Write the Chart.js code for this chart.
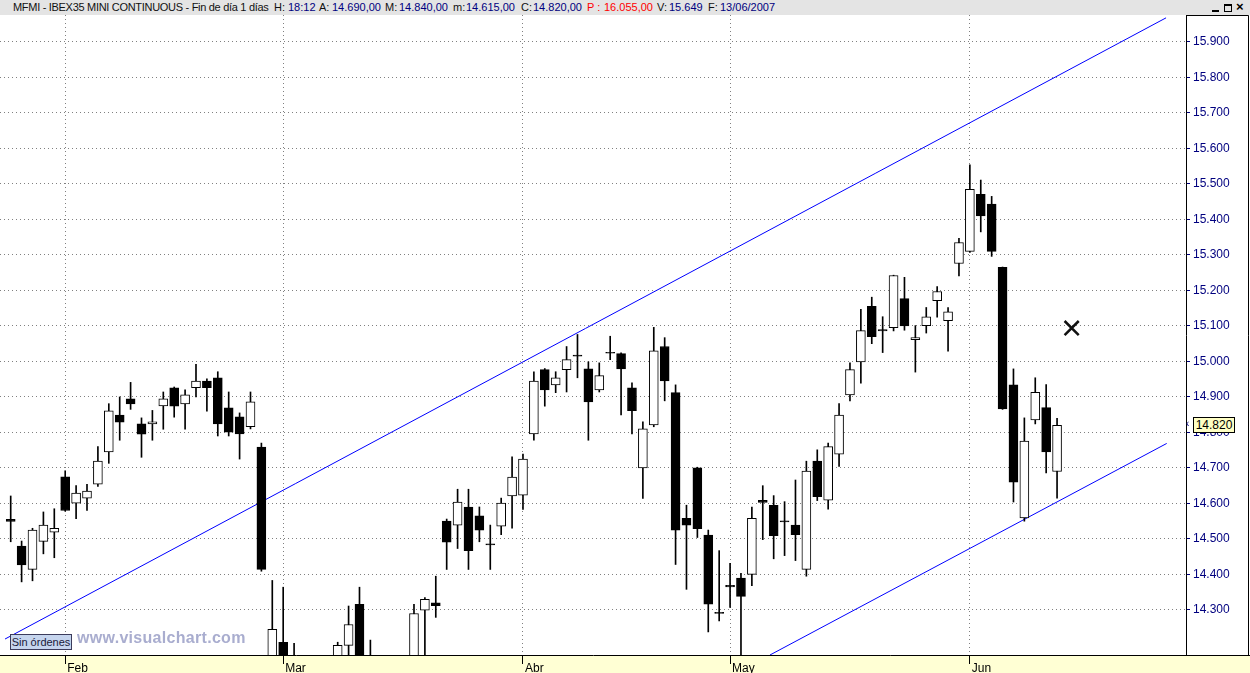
<!DOCTYPE html>
<html>
<head>
<meta charset="utf-8">
<script src="https://cdn.jsdelivr.net/npm/chart.js@4/dist/chart.umd.min.js"></script>
<style>
  body { margin: 0; background: #fff; }
  #wrap { position: relative; width: 1250px; height: 673px; overflow: hidden; font-family: "Liberation Sans", Arial, sans-serif; }
  #chart { position: absolute; left: 0; top: 0; }
  #head { position: absolute; left: 0; top: 0; width: 1250px; height: 15px; background: #e4e4e4; font-size: 11px; }
  #head span { position: absolute; top: 0; line-height: 15px; white-space: nowrap; }
  .k { color: #111; }
  .v { color: #000080; }
  .r { color: #ff0000; }
  #title { letter-spacing: -0.3px; }
  #btns div { position: absolute; }
  #noorders { position: absolute; left: 10px; top: 634px; width: 60px; height: 14px; background: #c6d5ee; border: 1px solid #3c3c5c; font-size: 11px; line-height: 14px; text-align: center; color: #1a1a3a; }
  #mark { position: absolute; left: 77px; top: 629px; font-size: 16px; font-weight: bold; letter-spacing: 0.3px; color: #a9adcf; white-space: nowrap; }
  #last { position: absolute; left: 1193px; top: 417px; width: 40px; height: 14px; background: #ffffc4; border: 1px solid #000; font-size: 12px; line-height: 14px; text-align: center; color: #000; }
  #arrow { position: absolute; left: 1186px; top: 417px; font-size: 10px; line-height: 14px; color: #000080; }
</style>
</head>
<body>
<div id="wrap">
  <canvas id="chart" width="1250" height="673"></canvas>
  <div id="head">
    <span id="title" class="k" style="left:13px">MFMI - IBEX35 MINI CONTINUOUS - Fin de día 1 días</span>
    <span class="k" style="left:274px">H:</span><span class="v" style="left:288px">18:12</span>
    <span class="k" style="left:319px">A:</span><span class="v" style="left:332px">14.690,00</span>
    <span class="k" style="left:385px">M:</span><span class="v" style="left:399px">14.840,00</span>
    <span class="k" style="left:453px">m:</span><span class="v" style="left:466px">14.615,00</span>
    <span class="k" style="left:521px">C:</span><span class="v" style="left:533px">14.820,00</span>
    <span class="r" style="left:587px">P :</span><span class="r" style="left:604px">16.055,00</span>
    <span class="k" style="left:657px">V:</span><span class="v" style="left:669px">15.649</span>
    <span class="k" style="left:708px">F:</span><span class="v" style="left:720px">13/06/2007</span>
    <div id="btns">
      <div style="left:1212px; top:10px; width:7px; height:2px; background:#000"></div>
      <div style="left:1224px; top:4px; width:6px; height:5px; border:1px solid #000; border-top-width:2px"></div>
      <span style="left:1236px; top:-1px; font-size:13px; font-weight:bold; color:#000">×</span>
    </div>
  </div>
  <div id="noorders">Sin órdenes</div>
  <div id="mark">www.visualchart.com</div>
  <div id="arrow">‹</div>
  <div id="last">14.820</div>
</div>
<script>
// SESSIONS (25/01/2007 - 13/06/2007)
const dates = [
  "25/01","26/01","29/01","30/01","31/01",
  "01/02","02/02","05/02","06/02","07/02","08/02","09/02","12/02","13/02","14/02",
  "15/02","16/02","19/02","20/02","21/02","22/02","23/02","26/02","27/02","28/02",
  "01/03","02/03","05/03","06/03","07/03","08/03","09/03","12/03","13/03","14/03","15/03",
  "16/03","19/03","20/03","21/03","22/03","23/03","26/03","27/03","28/03","29/03","30/03",
  "02/04","03/04","04/04","05/04","10/04","11/04","12/04","13/04","16/04","17/04",
  "18/04","19/04","20/04","23/04","24/04","25/04","26/04","27/04","30/04",
  "02/05","03/05","04/05","07/05","08/05","09/05","10/05","11/05","14/05","15/05","16/05",
  "17/05","18/05","21/05","22/05","23/05","24/05","25/05","28/05","29/05","30/05","31/05",
  "01/06","04/06","05/06","06/06","07/06","08/06","11/06","12/06","13/06"
];
const monthLabels = ["Ene", "Feb", "Mar", "Abr", "May", "Jun"];

// OHLC
const opens = [
  14555,14480,14414,14493,14519,
  14675,14601,14615,14654,14745,14849,14895,14824,14824,14875,
  14926,14880,14926,14945,14954,14869,14844,14816,14759,14100,
  14209,14100,13850,13800,13950,14060,14200,14316,14000,13700,13800,
  13950,14060,14299,14320,14550,14539,14590,14565,14486,14536,14621,
  14623,14796,14977,14934,14977,15018,14979,14920,15026,15022,
  14926,14700,14821,15042,14912,14558,14700,14511,14293,
  14369,14390,14400,14609,14595,14551,14539,14414,14719,14609,14739,
  14906,14999,15155,15090,15095,15177,15061,15101,15171,15115,15276,
  15310,15471,15443,15265,14934,14559,14835,14870,14690
];
const highs = [
  14621,14494,14530,14576,14585,
  14692,14650,14654,14760,14881,14900,14941,14841,14862,14914,
  14928,14920,14992,14951,14971,14914,14855,14914,14770,14383,
  14364,14206,14000,14020,14080,14209,14311,14364,14215,13900,14050,
  14120,14316,14335,14395,14556,14640,14640,14590,14539,14615,14731,
  14739,14971,14980,14971,15042,15076,14999,14996,15071,15024,
  14940,14830,15096,15067,14934,14595,14702,14525,14467,
  14431,14403,14590,14650,14622,14605,14666,14719,14751,14770,14881,
  14996,15147,15181,15126,15243,15237,15101,15152,15211,15152,15347,
  15554,15511,15465,15266,14979,14841,14954,14935,14840
];
const lows = [
  14492,14379,14382,14458,14447,
  14578,14557,14580,14648,14713,14778,14865,14730,14778,14809,
  14843,14809,14900,14860,14790,14790,14725,14810,14409,14050,
  13950,13900,13650,13750,13820,14020,14130,13950,13750,13500,13750,
  13880,14040,14165,14279,14414,14473,14414,14492,14414,14512,14530,
  14583,14778,14874,14912,14914,14954,14778,14914,15005,14849,
  14796,14614,14816,14889,14428,14358,14504,14238,14269,
  14307,14150,14368,14498,14444,14453,14439,14395,14608,14584,14704,
  14889,14939,15050,15025,15086,15088,14970,15080,15125,15029,15241,
  15307,15365,15296,14865,14604,14550,14824,14686,14615
];
const closes = [
  14549,14427,14525,14539,14530,
  14580,14629,14635,14719,14861,14829,14880,14795,14830,14895,
  14874,14906,14945,14926,14824,14801,14796,14886,14414,14245,
  14050,13950,13750,13950,13880,14200,14259,14000,13800,13750,13950,
  14000,14290,14330,14312,14491,14604,14467,14525,14483,14601,14674,
  14725,14945,14920,14954,15005,15015,14886,14960,15023,14979,
  14861,14810,15030,14945,14525,14539,14529,14316,14290,
  14365,14338,14558,14603,14509,14548,14512,14691,14619,14760,14849,
  14977,15087,15070,15086,15242,15100,15067,15126,15197,15140,15335,
  15485,15410,15310,14866,14660,14776,14913,14745,14820
];

// CHANNEL LINES [session index, price]
const upperTrend = [[-0.52, 14218], [106.0, 15968]];
const lowerTrend = [[69.66, 14173], [106.06, 14769]];
const cursorMark = [97.34, 15094];

// PRICE TICKS
const yTicks = [14300, 14400, 14500, 14600, 14700, 14800, 14900, 15000,
  15100, 15200, 15300, 15400, 15500, 15600, 15700, 15800, 15900];

const idx = dates.map((d, i) => i);
const monthStarts = idx.filter(i => i > 0 && dates[i].slice(3) !== dates[i - 1].slice(3));

const frame = {
  id: "frame",
  beforeDraw(chart) {
    const { ctx, chartArea: a, width, height } = chart;
    ctx.save();
    ctx.fillStyle = "#fff";
    ctx.fillRect(0, 0, width, height);
    ctx.fillStyle = "#ffffd4";
    ctx.fillRect(0, a.bottom, width, height - a.bottom);
    ctx.restore();
  },
  afterDraw(chart) {
    const { ctx, chartArea: a, width } = chart;
    ctx.save();
    ctx.strokeStyle = "#000";
    ctx.lineWidth = 1;
    ctx.beginPath();
    ctx.moveTo(a.right, a.top + 0.5);
    ctx.lineTo(width - 1.5, a.top + 0.5);
    ctx.lineTo(width - 1.5, a.bottom);
    ctx.moveTo(a.right, a.bottom + 0.5);
    ctx.lineTo(width, a.bottom + 0.5);
    ctx.stroke();
    ctx.restore();
  }
};

new Chart(document.getElementById("chart"), {
  type: "bar",
  data: {
    datasets: [
      {
        type: "line",
        label: "cursor",
        data: [{ x: cursorMark[0], y: cursorMark[1] }],
        showLine: false,
        pointStyle: "crossRot",
        pointRadius: 10,
        pointBorderWidth: 2.5,
        pointBorderColor: "#111",
        pointBackgroundColor: "rgba(0,0,0,0)",
        clip: 0,
        order: -1
      },
      {
        label: "cuerpo",
        data: idx.map(i => ({ x: i, y: [opens[i], closes[i]] })),
        backgroundColor: c => closes[c.dataIndex] >= opens[c.dataIndex] ? "#fff" : "#000",
        borderColor: "#000",
        borderWidth: 1,
        borderSkipped: false,
        barThickness: 9,
        grouped: false,
        clip: 0,
        order: 0
      },
      {
        label: "mecha",
        data: idx.map(i => ({ x: i, y: [lows[i], highs[i]] })),
        backgroundColor: "#000",
        borderWidth: 0,
        barThickness: 1,
        grouped: false,
        clip: 0,
        order: 1
      },
      {
        type: "line",
        label: "canal sup",
        data: upperTrend.map(p => ({ x: p[0], y: p[1] })),
        borderColor: "#0000ff",
        borderWidth: 1,
        pointRadius: 0,
        clip: 0,
        order: 2
      },
      {
        type: "line",
        label: "canal inf",
        data: lowerTrend.map(p => ({ x: p[0], y: p[1] })),
        borderColor: "#0000ff",
        borderWidth: 1,
        pointRadius: 0,
        clip: 0,
        order: 2
      }
    ]
  },
  options: {
    responsive: false,
    animation: false,
    devicePixelRatio: 1,
    layout: { autoPadding: false, padding: { top: 15, left: 0, right: 0, bottom: 0 } },
    font: { family: "'Liberation Sans', Arial, sans-serif" },
    plugins: { legend: { display: false }, tooltip: { enabled: false } },
    scales: {
      x: {
        type: "linear",
        position: "bottom",
        min: -0.982,
        max: 107.83,
        offset: false,
        bounds: "data",
        afterFit: s => { s.height = 18; s.paddingLeft = 0; s.paddingRight = 0; },
        afterBuildTicks: s => { s.ticks = monthStarts.map(i => ({ value: i })); },
        ticks: {
          autoSkip: false,
          maxRotation: 0,
          align: "start",
          labelOffset: 2,
          padding: -3,
          color: "#000",
          font: { family: "'Liberation Sans', Arial, sans-serif", size: 12 },
          callback: v => monthLabels[+dates[v].slice(3) - 1]
        },
        grid: { offset: false, color: "#808080", lineWidth: 1, tickLength: 9, tickColor: "#000", tickBorderDash: [] },
        border: { display: true, color: "#000", width: 1, dash: [1, 3] }
      },
      y: {
        type: "linear",
        position: "right",
        min: 14173,
        max: 15976,
        bounds: "data",
        beginAtZero: false,
        afterFit: s => { s.width = 64; s.paddingTop = 0; s.paddingBottom = 0; },
        afterBuildTicks: s => { s.ticks = yTicks.map(v => ({ value: v })); },
        ticks: {
          padding: 3,
          color: "#00007f",
          font: { family: "'Liberation Sans', Arial, sans-serif", size: 12 },
          callback: v => (v / 1000).toFixed(3)
        },
        grid: { color: "#808080", lineWidth: 1, tickLength: 4, tickColor: "#00007f", tickBorderDash: [] },
        border: { display: true, color: "#000", width: 1, dash: [1, 3] }
      }
    }
  },
  plugins: [frame]
});
</script>
</body>
</html>
